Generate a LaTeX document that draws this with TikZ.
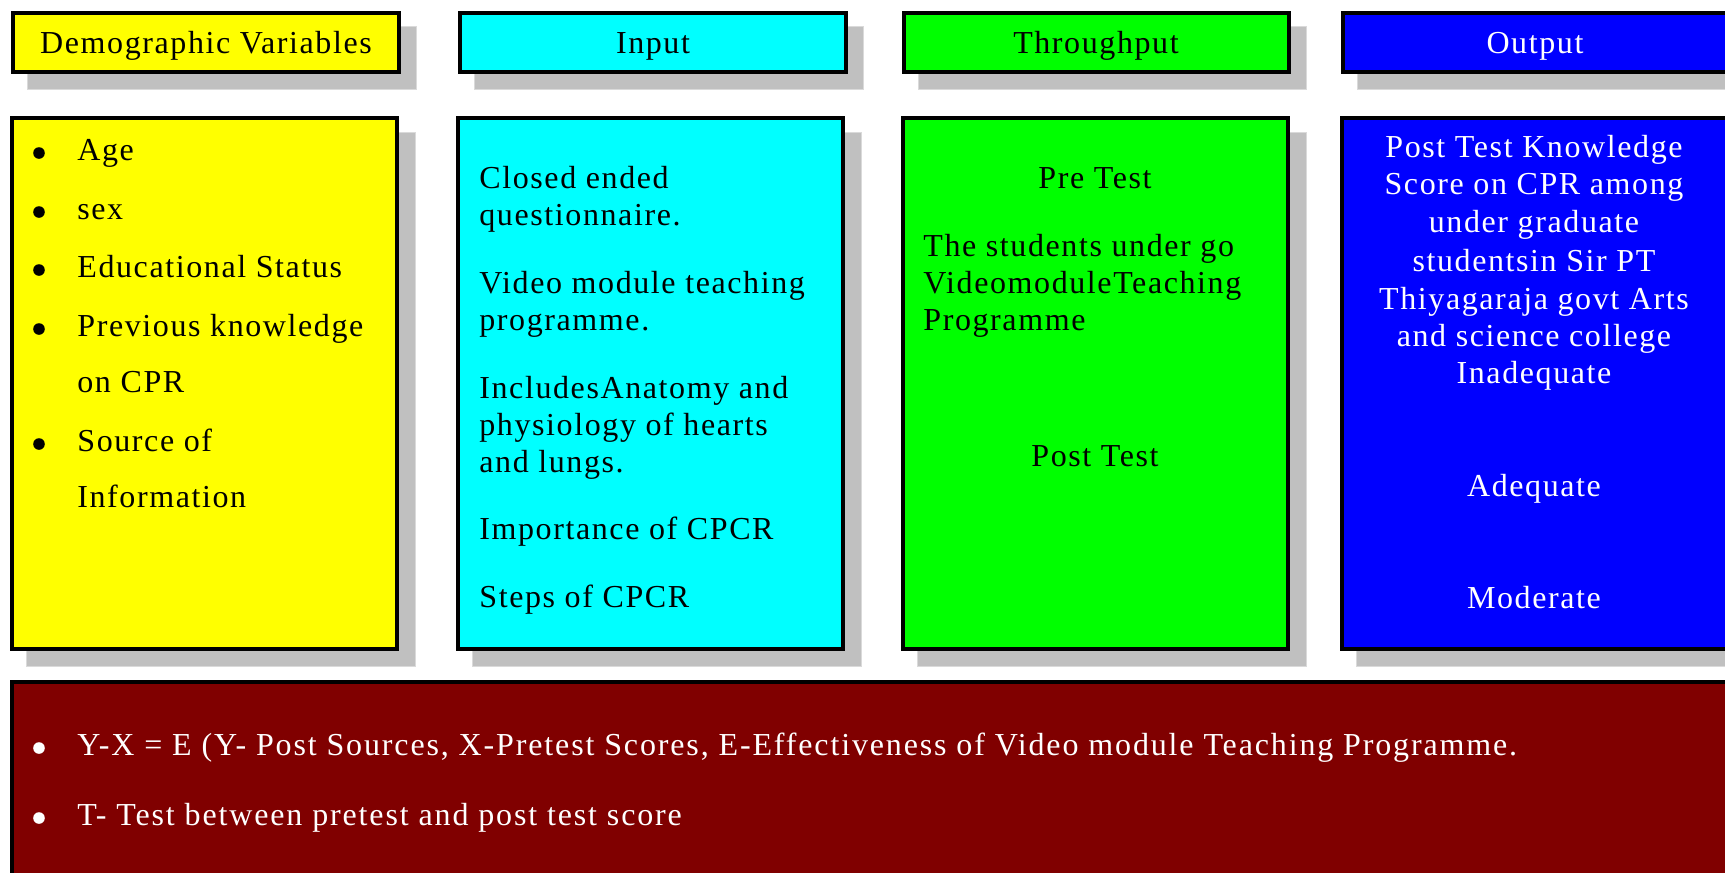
\documentclass[tikz,border=0pt]{standalone}
\usepackage{fontspec}
\setmainfont{Liberation Serif}[LetterSpace=5]
\definecolor{demoyellow}{HTML}{FFFF00}
\definecolor{inputcyan}{HTML}{00FFFF}
\definecolor{thrugreen}{HTML}{00FF00}
\definecolor{outblue}{HTML}{0000FF}
\definecolor{notemaroon}{HTML}{800000}
\definecolor{shadowgray}{HTML}{C0C0C0}
\definecolor{shadowedge}{HTML}{DADADA}
\tikzset{
  box/.style={draw=black, line width=1.8pt},
  shadowbox/.style={fill=shadowgray, draw=shadowedge, line width=0.5pt},
  txt/.style={inner sep=0pt, anchor=base west, font=\fontsize{16pt}{18.5pt}\selectfont},
  ctxt/.style={txt, anchor=base},
  bul/.style={circle, fill=black, inner sep=0pt, minimum size=5.8pt},
}

\begin{document}
\begin{tikzpicture}[x=0.5pt, y=-0.5pt]
\useasboundingbox (0,0) rectangle (1725,873);
\clip (0,0) rectangle (1725,873);

% shadows
\draw[shadowbox] (27,26) rectangle (416,89);
\draw[shadowbox] (474,26) rectangle (863,89);
\draw[shadowbox] (918,26) rectangle (1306,89);
\draw[shadowbox] (1357,26) rectangle (1745,89);
\draw[shadowbox] (26,132) rectangle (415,666);
\draw[shadowbox] (472,132) rectangle (861,666);
\draw[shadowbox] (917,132) rectangle (1306,666);
\draw[shadowbox] (1356,132) rectangle (1745,666);

% header boxes
\draw[box, fill=demoyellow] (13,13) rectangle (399,72);
\draw[box, fill=inputcyan] (460,13) rectangle (846,72);
\draw[box, fill=thrugreen] (904,13) rectangle (1289,72);
\draw[box, fill=outblue] (1343,13) rectangle (1730,72);
\node[ctxt] (hdemo) at (206,53) {Demographic Variables};
\node[ctxt] (hinput) at (653,53) {Input};
\node[ctxt] (hthru) at (1096,53) {Throughput};
\node[ctxt, text=white] (hout) at (1535,53) {Output};

% column boxes
\draw[box, fill=demoyellow] (12,118) rectangle (397,649);
\draw[box, fill=inputcyan] (458,118) rectangle (843,649);
\draw[box, fill=thrugreen] (903,118) rectangle (1288,649);
\draw[box, fill=outblue] (1342,118) rectangle (1730,649);

% demographic variables
\node[bul] (b1) at (39,153) {};
\node[txt] (age) at (77,160) {Age};
\node[bul] (b2) at (39,212) {};
\node[txt] (sex) at (77,219) {sex};
\node[bul] (b3) at (39,270) {};
\node[txt] (edu) at (77,277) {Educational Status};
\node[bul] (b4) at (39,329) {};
\node[txt] (prev) at (77,336) {Previous knowledge};
\node[txt] (prevb) at (77,392) {on CPR};
\node[bul] (b5) at (39,444) {};
\node[txt] (src) at (77,451) {Source of};
\node[txt] (srcb) at (77,507) {Information};

% input
\node[txt] (in1) at (479,188) {Closed ended};
\node[txt] (in2) at (479,225) {questionnaire.};
\node[txt] (in3) at (479,293) {Video module teaching};
\node[txt] (in4) at (479,330) {programme.};
\node[txt] (in5) at (479,398) {IncludesAnatomy and};
\node[txt] (in6) at (479,435) {physiology of hearts};
\node[txt] (in7) at (479,472) {and lungs.};
\node[txt] (in8) at (479,539) {Importance of CPCR};
\node[txt] (in9) at (479,607) {Steps of CPCR};

% throughput
\node[ctxt] (pre) at (1095,188) {Pre Test};
\node[txt] (th1) at (923,256) {The students under go};
\node[txt] (th2) at (923,293) {VideomoduleTeaching};
\node[txt] (th3) at (923,330) {Programme};
\node[ctxt] (post) at (1095,466) {Post Test};

% output
\node[ctxt, text=white] (out1) at (1534,157) {Post Test Knowledge};
\node[ctxt, text=white] (out2) at (1534,194) {Score on CPR among};
\node[ctxt, text=white] (out3) at (1534,232) {under graduate};
\node[ctxt, text=white] (out4) at (1534,271) {studentsin Sir PT};
\node[ctxt, text=white] (out5) at (1534,309) {Thiyagaraja govt Arts};
\node[ctxt, text=white] (out6) at (1534,346) {and science college};
\node[ctxt, text=white] (out7) at (1534,383) {Inadequate};
\node[ctxt, text=white] (adeq) at (1534,496) {Adequate};
\node[ctxt, text=white] (mod) at (1534,608) {Moderate};

% bottom note
\draw[box, fill=notemaroon] (12,682) rectangle (1745,890);
\node[bul, fill=white] (b6) at (39,748) {};
\node[txt, text=white] (note1) at (77,755) {\addfontfeature{LetterSpace=5.8}Y-X = E (Y- Post Sources, X-Pretest Scores, E-Effectiveness of Video module Teaching Programme.};
\node[bul, fill=white] (b7) at (39,818) {};
\node[txt, text=white] (note2) at (77,825) {\addfontfeature{LetterSpace=5.8}T- Test between pretest and post test score};
\end{tikzpicture}
\end{document}
